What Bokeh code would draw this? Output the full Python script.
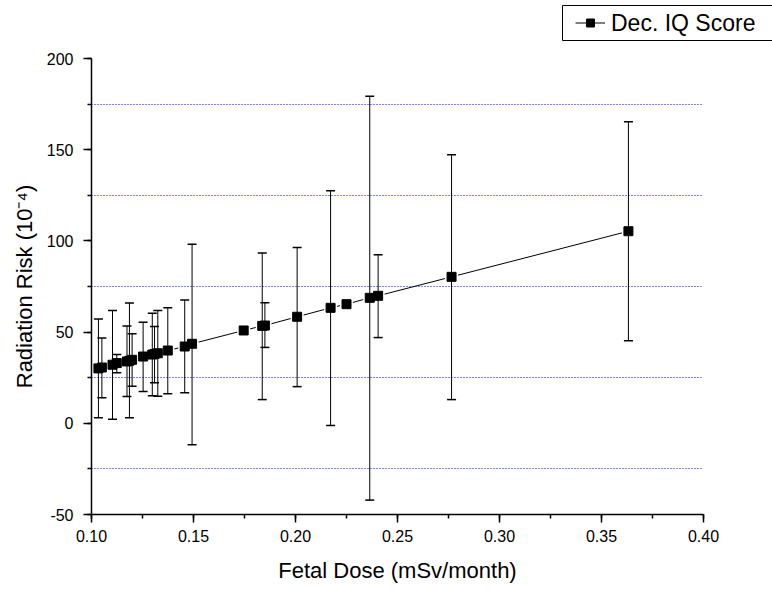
from bokeh.plotting import figure
from bokeh.layouts import column, row
from bokeh.models import (ColumnDataSource, Whisker, TeeHead, Legend, LegendItem, Spacer,
                          SingleIntervalTicker, NumeralTickFormatter, FixedTicker, Range1d)
from bokeh.embed import file_html
from bokeh.resources import INLINE

# ---- data ----
dose = [0.1034, 0.1051, 0.1103, 0.1124, 0.1174, 0.1186, 0.1199, 0.1253, 0.1298, 0.1309,
        0.1325, 0.1374, 0.1457, 0.1493, 0.1746, 0.1837, 0.1850, 0.2008, 0.2172, 0.2250,
        0.2364, 0.2405, 0.2765, 0.3632]
risk = [30.1, 30.6, 32.1, 33.0, 33.9, 34.3, 34.8, 36.6, 37.7, 38.0,
        38.4, 39.9, 42.1, 43.6, 50.9, 53.4, 53.6, 58.4, 63.3, 65.3,
        68.8, 69.9, 80.3, 105.3]
err_low = [3.0, 14.0, 2.2, 27.7, 14.7, 3.0, 20.3, 17.4, 15.1, 22.2,
           14.8, 16.2, 16.7, -11.8, None, 13.0, 41.6, 20.1, -1.2, None,
           -42.1, 47.0, 13.0, 45.2]
err_high = [57.2, 46.8, 61.8, 37.7, 53.3, 66.0, 49.1, 55.4, 60.3, 53.1,
            61.9, 63.3, 67.6, 98.2, None, 93.3, 66.1, 96.4, 127.5, None,
            179.3, 92.4, 147.2, 165.3]
grid_values = [-25, 25, 75, 125, 175]
series_label = "Dec. IQ Score"
x_title = "Fetal Dose (mSv/month)"
y_title = "Radiation Risk (10\u207b\u2074)"

FONT = "Liberation Sans"

src = ColumnDataSource(dict(x=dose, y=risk))
ex, elo, ehi = [], [], []
for xv, lo, hi in zip(dose, err_low, err_high):
    if lo is not None and hi is not None:
        ex.append(xv); elo.append(lo); ehi.append(hi)
esrc = ColumnDataSource(dict(x=ex, lo=elo, hi=ehi))

p = figure(width=772, height=549, x_range=Range1d(0.10, 0.40), y_range=Range1d(-50, 200),
           output_backend="svg", toolbar_location=None,
           min_border_left=91, min_border_right=69, min_border_top=17, min_border_bottom=76)
p.outline_line_color = None
p.background_fill_color = "white"
p.border_fill_color = "white"

# grid: dotted blue lines at the minor y positions
p.xgrid.visible = False
p.ygrid.ticker = FixedTicker(ticks=grid_values)
p.ygrid.grid_line_color = "#0000ff"
p.ygrid.grid_line_alpha = 1.0
p.ygrid.grid_line_dash = "1 2"
p.ygrid.grid_line_width = 1

# axes
for ax in (p.xaxis[0], p.yaxis[0]):
    ax.axis_line_color = "black"
    ax.axis_line_width = 1.5
    ax.major_tick_line_color = "black"
    ax.major_tick_line_width = 1.5
    ax.minor_tick_line_color = "black"
    ax.minor_tick_line_width = 1.5
    ax.major_tick_out = 8
    ax.major_tick_in = 0
    ax.minor_tick_out = 4
    ax.minor_tick_in = 0
    ax.major_label_text_font = FONT
    ax.major_label_text_font_size = "16px"
    ax.major_label_text_color = "black"
    ax.axis_label_text_font = FONT
    ax.axis_label_text_font_size = "22px"
    ax.axis_label_text_font_style = "normal"
    ax.axis_label_text_color = "black"

p.xaxis.ticker = SingleIntervalTicker(interval=0.05, num_minor_ticks=2)
p.xaxis.formatter = NumeralTickFormatter(format="0.00")
p.xaxis.axis_label = x_title
p.xaxis.major_label_standoff = 7
p.xaxis.axis_label_standoff = 13

p.yaxis.ticker = SingleIntervalTicker(interval=50, num_minor_ticks=2)
p.yaxis.formatter = NumeralTickFormatter(format="0")
p.yaxis.axis_label = y_title
p.yaxis.major_label_standoff = 10
p.yaxis.axis_label_standoff = 7

# series
line_r = p.line("x", "y", source=src, line_color="black", line_width=1)
white_r = p.scatter("x", "y", source=src, marker="square", size=13,
                    fill_color="white", line_color=None)
sq_r = p.scatter("x", "y", source=src, marker="square", size=9,
                 fill_color="black", line_color="black")

whisk = Whisker(source=esrc, base="x", lower="lo", upper="hi", dimension="height",
                line_color="black", line_width=1, level="glyph",
                upper_head=TeeHead(size=9, line_color="black", line_width=1.5),
                lower_head=TeeHead(size=9, line_color="black", line_width=1.5))
p.add_layout(whisk)

# ---- legend box (separate small figure above the plot, outside the frame) ----
# it reuses the series source; its 0..1 ranges keep the data itself out of view
lf = figure(width=212, height=37, x_range=Range1d(0, 1), y_range=Range1d(0, 1),
            output_backend="svg", toolbar_location=None,
            x_axis_type=None, y_axis_type=None, min_border=1)
lf.grid.visible = False
lf.outline_line_color = "black"
lf.outline_line_width = 1
l_line = lf.line("x", "y", source=src, line_color="black", line_width=1)
l_white = lf.scatter("x", "y", source=src, marker="square", size=13,
                     fill_color="white", line_color=None)
l_sq = lf.scatter("x", "y", source=src, marker="square", size=9,
                  fill_color="black", line_color="black")
legend = Legend(items=[LegendItem(label=series_label, renderers=[l_line, l_white, l_sq])],
                location="left", border_line_color=None, background_fill_alpha=0.0,
                label_text_font=FONT, label_text_font_size="23px", label_text_color="black",
                glyph_width=30, glyph_height=20, padding=0, margin=13,
                label_standoff=6, spacing=0)
lf.add_layout(legend)

layout = column(Spacer(height=4),
                row(Spacer(width=561), lf),
                p)

open("out.html", "w").write(file_html(layout, INLINE))
